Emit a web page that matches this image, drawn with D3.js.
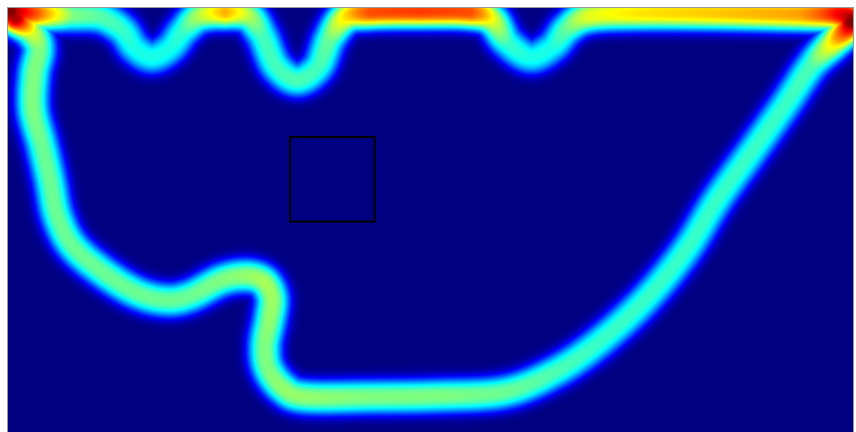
<!DOCTYPE html>
<html>
<head>
<meta charset="utf-8">
<script src="https://cdn.jsdelivr.net/npm/d3@7"></script>
<style>
  html, body { margin: 0; padding: 0; background: #fff; overflow: hidden; }
  svg { display: block; }
</style>
</head>
<body>
<svg id="chart" width="856" height="432"></svg>
<script>
// Track centre line (closed loop), in plot units, with the occupancy level along it.
const trackX = [3, 27, 62, 92, 114, 127, 144, 162, 176, 192, 217, 240, 254, 268, 289, 310, 322, 338, 362, 412,
  462, 484, 499, 522, 544, 560, 582, 632, 712, 792, 830, 843, 826, 804, 777, 745, 709, 678, 637, 590,
  547, 497, 432, 362, 297, 275, 260, 257, 262, 264, 256, 239, 214, 182, 157, 127, 92, 64, 49, 42,
  34, 25, 26, 31, 22, 8];
const trackY = [3, 5, 7, 9, 22, 40, 49, 40, 22, 8, 4, 8, 27, 58, 72, 59, 30, 9, 4, 3,
  4, 12, 34, 49, 39, 20, 8, 5, 5, 6, 6, 14, 34, 57, 97, 142, 192, 242, 292, 335,
  364, 384, 388, 389, 389, 380, 360, 337, 310, 290, 274, 268, 272, 288, 292, 284, 262, 237, 207, 172,
  137, 102, 67, 40, 22, 10];
const trackW = [1.0, 0.8, 0.5, 0.46, 0.43, 0.4, 0.4, 0.4, 0.43, 0.55, 0.7, 0.55, 0.44, 0.44, 0.45, 0.44, 0.48, 0.65, 0.8, 0.82,
  0.8, 0.6, 0.43, 0.4, 0.4, 0.48, 0.6, 0.65, 0.68, 0.72, 0.88, 1.0, 0.65, 0.45, 0.43, 0.43, 0.43, 0.43, 0.43, 0.43,
  0.45, 0.48, 0.5, 0.5, 0.52, 0.52, 0.5, 0.5, 0.52, 0.53, 0.54, 0.52, 0.5, 0.48, 0.48, 0.48, 0.48, 0.48, 0.48, 0.48,
  0.48, 0.5, 0.5, 0.5, 0.6, 0.95];

// Region of interest box, in plot units.
const roiX = [282, 366.5];
const roiY = [129, 213.5];

const width = 856, height = 432;
const frame = { left: 8, top: 8, right: 853, bottom: 440 };

const x = d3.scaleLinear().domain([0, 845]).range([frame.left, frame.right]);
const y = d3.scaleLinear().domain([0, 432]).range([frame.top, frame.bottom]);

// Classic "jet" colour ramp.
function jet(t) {
  t = Math.max(0, Math.min(1, t));
  const ch = v => Math.max(0, Math.min(1, v));
  const r = ch(Math.min(4 * t - 1.5, -4 * t + 4.5));
  const g = ch(Math.min(4 * t - 0.5, -4 * t + 3.5));
  const b = ch(Math.min(4 * t + 0.5, -4 * t + 2.5));
  return d3.rgb(r * 255, g * 255, b * 255).toString();
}
const color = d3.scaleSequential(jet).domain([0, 1]).clamp(true);

const LUT_N = 1024;
const lut = d3.range(LUT_N).map(i => d3.rgb(color(i / (LUT_N - 1))));

// Smooth closed curve through the track points (Catmull-Rom), mapped to pixels.
function sampleTrack(steps) {
  const n = trackX.length;
  const pts = [];
  for (let i = 0; i < n; i++) {
    const i0 = (i - 1 + n) % n, i1 = i, i2 = (i + 1) % n, i3 = (i + 2) % n;
    for (let s = 0; s < steps; s++) {
      const t = s / steps, t2 = t * t, t3 = t2 * t;
      const cr = (p0, p1, p2, p3) => 0.5 * (2 * p1 + (-p0 + p2) * t + (2 * p0 - 5 * p1 + 4 * p2 - p3) * t2 + (-p0 + 3 * p1 - 3 * p2 + p3) * t3);
      const px = cr(trackX[i0], trackX[i1], trackX[i2], trackX[i3]);
      const py = cr(trackY[i0], trackY[i1], trackY[i2], trackY[i3]);
      pts.push({ px: x(px), py: y(py), w: trackW[i1] + (trackW[i2] - trackW[i1]) * t });
    }
  }
  pts.push(pts[0]);
  return pts;
}

const gw = frame.right - frame.left;
const gh = height - frame.top;
const field = new Float32Array(gw * gh);
const L = 17.5, P = 2.7, R = 32;

const pts = sampleTrack(14);
for (let k = 0; k < pts.length - 1; k++) {
  const a = pts[k], b = pts[k + 1];
  const ax = a.px - frame.left, ay = a.py - frame.top;
  const bx = b.px - frame.left, by = b.py - frame.top;
  const dx = bx - ax, dy = by - ay, len2 = dx * dx + dy * dy || 1e-9;
  const x0 = Math.max(0, Math.floor(Math.min(ax, bx) - R)), x1 = Math.min(gw - 1, Math.ceil(Math.max(ax, bx) + R));
  const y0 = Math.max(0, Math.floor(Math.min(ay, by) - R)), y1 = Math.min(gh - 1, Math.ceil(Math.max(ay, by) + R));
  for (let j = y0; j <= y1; j++) {
    const cy = j + 0.5;
    for (let i = x0; i <= x1; i++) {
      const cx = i + 0.5;
      let t = ((cx - ax) * dx + (cy - ay) * dy) / len2;
      t = t < 0 ? 0 : t > 1 ? 1 : t;
      const ex = cx - (ax + t * dx), ey = cy - (ay + t * dy);
      const d = Math.sqrt(ex * ex + ey * ey);
      if (d > R) continue;
      const v = (a.w + t * (b.w - a.w)) * Math.exp(-Math.pow(d / L, P));
      const idx = j * gw + i;
      if (v > field[idx]) field[idx] = v;
    }
  }
}

const canvas = document.createElement('canvas');
canvas.width = gw; canvas.height = gh;
const ctx = canvas.getContext('2d');
const img = ctx.createImageData(gw, gh);
for (let p = 0; p < field.length; p++) {
  const c = lut[Math.round(Math.max(0, Math.min(1, field[p])) * (LUT_N - 1))];
  img.data[4 * p] = c.r; img.data[4 * p + 1] = c.g; img.data[4 * p + 2] = c.b; img.data[4 * p + 3] = 255;
}
ctx.putImageData(img, 0, 0);

const svg = d3.select('#chart');
svg.append('rect').attr('width', width).attr('height', height).attr('fill', '#fff');

svg.append('image')
  .attr('x', frame.left).attr('y', frame.top)
  .attr('width', gw).attr('height', gh)
  .attr('preserveAspectRatio', 'none')
  .attr('href', canvas.toDataURL());

// Frame around the map
svg.append('rect')
  .attr('x', frame.left - 0.5).attr('y', frame.top - 0.5)
  .attr('width', gw + 1).attr('height', frame.bottom - frame.top + 1)
  .attr('fill', 'none').attr('stroke', '#9a9a9a').attr('stroke-width', 1);

// Region of interest
svg.append('rect')
  .attr('x', x(roiX[0])).attr('y', y(roiY[0]))
  .attr('width', x(roiX[1]) - x(roiX[0])).attr('height', y(roiY[1]) - y(roiY[0]))
  .attr('fill', 'none').attr('stroke', '#000').attr('stroke-width', 2);
</script>
</body>
</html>
